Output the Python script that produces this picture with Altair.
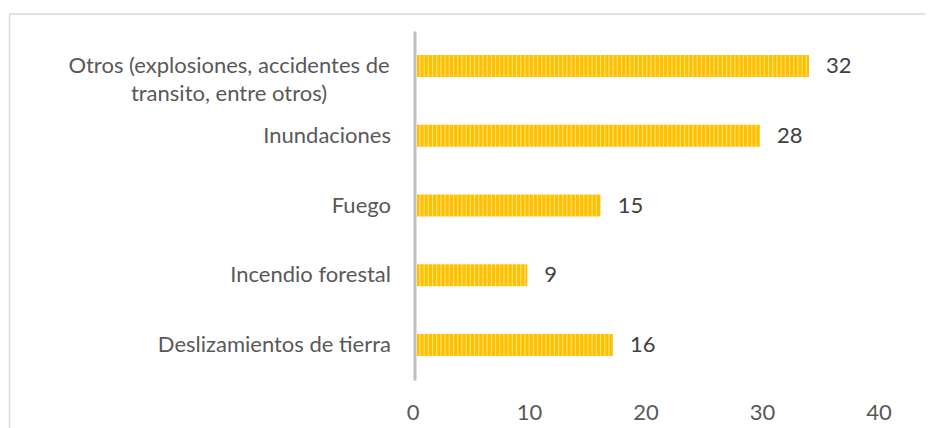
import math
import altair as alt
import pandas as pd

# ---- data ----
categories = [
    "Otros (explosiones, accidentes de transito, entre otros)",
    "Inundaciones",
    "Fuego",
    "Incendio forestal",
    "Deslizamientos de tierra",
]
display_labels = [
    "Otros (explosiones, accidentes de\ntransito, entre otros)",
    "Inundaciones",
    "Fuego",
    "Incendio forestal",
    "Deslizamientos de tierra",
]
values = [32, 28, 15, 9, 16]
x_ticks = [0, 10, 20, 30, 40]

df = pd.DataFrame({"cat": categories, "label": display_labels, "value": values})
ticks_df = pd.DataFrame({"t": x_ticks})

# ---- layout / style ----
W, H = 490, 349
PAD = {"left": 409, "top": 23, "right": 18, "bottom": 48}
X_MAX = 40
PX_PER_UNIT = W / X_MAX
FONT = "Lato"
FS = 22
BASE = "#FFC000"
LIGHT = "#FFE27E"
PERIOD = 4.2


def stripe_gradient(value):
    length = value * PX_PER_UNIT
    stops = []
    x = 0.0
    while x < length:
        for frac, col in ((0.0, BASE), (0.45, BASE), (0.7, LIGHT), (0.95, BASE)):
            off = min((x + frac * PERIOD) / length, 1.0)
            stops.append(alt.GradientStop(offset=off, color=col))
        x += PERIOD
    stops.append(alt.GradientStop(offset=1.0, color=BASE))
    return alt.Gradient(gradient="linear", x1=0, y1=0, x2=1, y2=0, stops=stops)


y_enc = alt.Y(
    "cat:N",
    sort=categories,
    scale=alt.Scale(paddingInner=0.685, paddingOuter=0.3425),
    axis=alt.Axis(
        title=None, labels=False, ticks=False, grid=False,
        domain=True, domainColor="#BFBFBF", domainWidth=3, offset=2.5,
    ),
)
x_enc = alt.X("value:Q", scale=alt.Scale(domain=[0, X_MAX], nice=False, zero=True), axis=None)

bars = [
    alt.Chart(df)
    .transform_filter(alt.datum.cat == c)
    .mark_bar(color=stripe_gradient(v))
    .encode(x=x_enc, y=y_enc)
    for c, v in zip(categories, values)
]

value_text = (
    alt.Chart(df)
    .mark_text(align="left", baseline="middle", dx=17, font=FONT, fontSize=FS, color="#404040")
    .encode(x=x_enc, y=y_enc, text="value:Q")
)

label_right = (
    alt.Chart(df)
    .transform_filter(alt.datum.cat != categories[0])
    .mark_text(align="right", baseline="middle", font=FONT, fontSize=FS, color="#595959")
    .encode(x=alt.value(-26), y=y_enc, text="label:N")
)
label_long = (
    alt.Chart(df)
    .transform_filter(alt.datum.cat == categories[0])
    .mark_text(align="center", baseline="middle", font=FONT, fontSize=FS, color="#595959",
               lineBreak="\n", lineHeight=28)
    .encode(x=alt.value(-188), y=y_enc, text="label:N")
)

one = alt.Data(values=[{"a": 1}])
border_top = alt.Chart(one).mark_rule(color="#D9D9D9", strokeWidth=1.5).encode(
    x=alt.value(-407.5), x2=alt.value(W + PAD["right"]), y=alt.value(-17)
)
border_left = alt.Chart(one).mark_rule(color="#D9D9D9", strokeWidth=1.5).encode(
    x=alt.value(-407.5), y=alt.value(-17), y2=alt.value(H + PAD["bottom"])
)

inner = alt.layer(border_top, border_left, *bars, value_text, label_right, label_long)

axis_layer = (
    alt.Chart(ticks_df)
    .mark_point(opacity=0)
    .encode(
        x=alt.X(
            "t:Q",
            scale=alt.Scale(domain=[0, 42.06], nice=False, zero=True),
            axis=alt.Axis(
                values=x_ticks, orient="bottom", title=None, format="d",
                ticks=False, domain=False, grid=False, labelFlush=False,
                labelOffset=-4.5, labelPadding=22, labelFont=FONT,
                labelFontSize=FS, labelColor="#595959",
            ),
        )
    )
)

chart = (
    alt.layer(inner, axis_layer)
    .resolve_scale(x="independent")
    .properties(
        width=W,
        height=H,
        autosize=alt.AutoSizeParams(type="none"),
        padding=PAD,
    )
    .configure_view(strokeWidth=0)
)

chart.save("out.html", embed_options={"renderer": "svg", "actions": False})
